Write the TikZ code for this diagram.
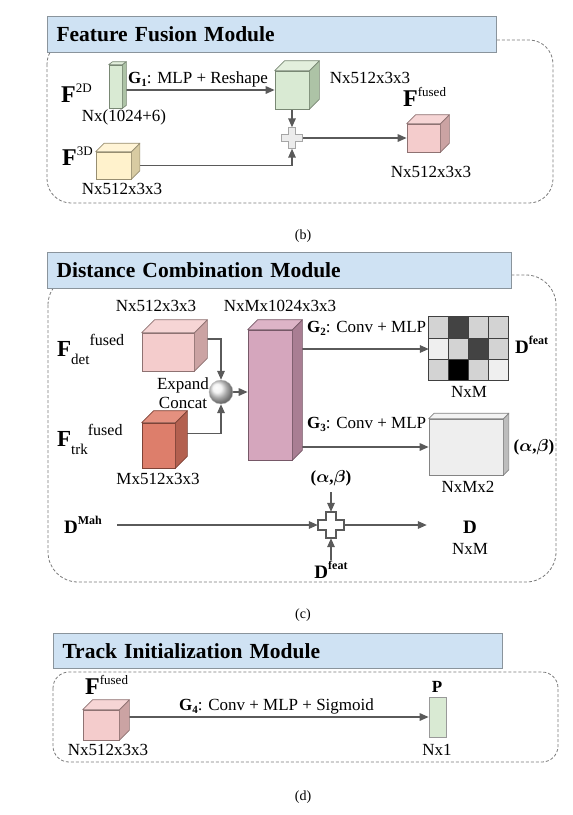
\documentclass[tikz,border=0pt]{standalone}
\usepackage{amsmath}
\usepackage{bm}
\usepackage{fontspec}
\setmainfont{Liberation Serif}
\usetikzlibrary{arrows.meta,calc}

\definecolor{titleblue}{HTML}{CFE2F3}
\definecolor{titleedge}{HTML}{8A949C}
\definecolor{arrgray}{HTML}{5A5A5A}
\definecolor{dashgray}{HTML}{7A7A7A}
\definecolor{greenfront}{HTML}{D9EAD3}
\definecolor{greenside}{HTML}{ADC3A6}
\definecolor{greentop}{HTML}{E3EFDD}
\definecolor{yellowfront}{HTML}{FFF2CC}
\definecolor{yellowside}{HTML}{D8CBA2}
\definecolor{yellowtop}{HTML}{FFF4D6}
\definecolor{pinkfront}{HTML}{F4CCCC}
\definecolor{pinkside}{HTML}{CBA3A3}
\definecolor{pinktop}{HTML}{F6D5D5}
\definecolor{redfront}{HTML}{DD7E6B}
\definecolor{redside}{HTML}{B3604F}
\definecolor{redtop}{HTML}{E4907F}
\definecolor{mauvefront}{HTML}{D5A6BD}
\definecolor{mauveside}{HTML}{A97E93}
\definecolor{mauvetop}{HTML}{DDB4C7}
\definecolor{grayfront}{HTML}{EEEEEE}
\definecolor{grayside}{HTML}{BDBDBD}
\definecolor{graytop}{HTML}{F3F3F3}
\definecolor{cl}{HTML}{D3D3D3}
\definecolor{cv}{HTML}{EFEFEF}
\definecolor{cd}{HTML}{434343}
\definecolor{cb}{HTML}{000000}

\pgfdeclarelayer{bg}
\pgfsetlayers{bg,main}

% cube: name, position, width, height, depth, front, side, top
\newcommand{\cube}[8]{%
  \node[cubeface, draw=#7!70!black, fill=#6, minimum width=#3pt, minimum height=#4pt] (#1) at (#2) {};
  \draw[cubeedge, draw=#7!70!black, fill=#7] (#1.north east) -- ++(#5,-#5) -- ([shift={(#5,-#5)}]#1.south east) -- (#1.south east) -- cycle;
  \draw[cubeedge, draw=#7!70!black, fill=#8] (#1.north west) -- ++(#5,-#5) -- ([shift={(#5,-#5)}]#1.north east) -- (#1.north east) -- cycle;
}
% plus: name, position, half length, half thickness, style
\newcommand{\plusnode}[5]{%
  \node[inner sep=0pt, minimum size={2*#3 pt}] (#1) at (#2) {};
  \draw[#5] (#2) ++(-#4,-#3) -- ++(2*#4,0) -- ++(0,#3-#4) -- ++(#3-#4,0) -- ++(0,2*#4) -- ++(-#3+#4,0) -- ++(0,#3-#4) -- ++(-2*#4,0) -- ++(0,-#3+#4) -- ++(-#3+#4,0) -- ++(0,-2*#4) -- ++(#3-#4,0) -- cycle;
}
\newcommand{\Fsup}[1]{{\fontsize{24}{24}\selectfont\textbf{F}}\raisebox{10pt}{\fontsize{13}{13}\selectfont #1}}
\newcommand{\Fsubsup}[2]{{\fontsize{23}{23}\selectfont\textbf{F}}\raisebox{-8pt}{\fontsize{15}{15}\selectfont #1}\raisebox{11pt}{\fontsize{16}{16}\selectfont #2}}
\newcommand{\Dsup}[1]{{\fontsize{19}{19}\selectfont\textbf{D}}\raisebox{9pt}{\fontsize{12}{12}\selectfont\textbf{#1}}}
\newcommand{\Gsub}[1]{\textbf{G}\raisebox{-3pt}{\fontsize{11}{11}\selectfont\textbf{#1}}}
\newcommand{\ab}{\textbf{(}$\bm{\alpha}$\textbf{,}$\bm{\beta}$\textbf{)}}

\begin{document}
\begin{tikzpicture}[x=1pt, y=-1pt,
  lbl/.style={font=\fontsize{17}{19}\selectfont, inner sep=0pt},
  sym/.style={font=\fontsize{17}{19}\selectfont, inner sep=0pt, anchor=base west},
  captext/.style={font=\fontsize{14}{16}\selectfont, inner sep=0pt},
  arr/.style={draw=arrgray, line width=1.6pt, -{Triangle[length=9pt,width=7.5pt]}},
  cubeface/.style={inner sep=0pt, line width=0.7pt},
  cubeedge/.style={line width=0.7pt, line join=round},
  dashbox/.style={draw=dashgray, line width=0.8pt, dash pattern=on 3pt off 2pt},
  titlebox/.style={draw=titleedge, line width=1pt, fill=titleblue, anchor=north west,
    minimum height=36pt, text width=#1, align=left, inner xsep=9pt,
    font=\fontsize{21.5}{24}\selectfont\bfseries},
  plusb/.style={draw=gray!70, fill=gray!15, line width=1pt},
  plusc/.style={draw=arrgray, fill=white, line width=1.6pt, line join=miter}]
\useasboundingbox (0,0) rectangle (573,815);

% (b) feature fusion
\draw[dashbox, rounded corners=24pt] (47,40) rectangle (553,203);
\node[titlebox=431pt] (titleb) at (47,16) {Feature Fusion Module};
\node[cubeface, draw=greenside!70!black, fill=greenfront, minimum width=13pt, minimum height=43pt] (bar2d) at (115.5,86.5) {};
\draw[cubeedge, draw=greenside!70!black, fill=greenside] (bar2d.north east) -- ++(4,-3) -- ([shift={(4,-3)}]bar2d.south east) -- (bar2d.south east) -- cycle;
\draw[cubeedge, draw=greenside!70!black, fill=greentop] (bar2d.north west) -- ++(4,-3) -- ([shift={(4,-3)}]bar2d.north east) -- (bar2d.north east) -- cycle;
\node[sym] (f2d) at (61,102) {\Fsup{2D}};
\node[lbl] (l2d) at (124,117) {Nx(1024+6)};
\cube{cubeg}{292,90}{34}{38}{10}{greenfront}{greenside}{greentop}
\node[lbl] (lg) at (370,78) {Nx512x3x3};
\node[sym] (g1) at (128,83) {\Gsub{1}: MLP + Reshape};
\plusnode{plusb}{292,138}{10.5}{3.8}{plusb}
\cube{f3d}{113.5,165.5}{35}{27}{8.5}{yellowfront}{yellowside}{yellowtop}
\node[sym] (f3dl) at (62,165) {\Fsup{3D}};
\node[lbl] (l3d) at (122,189) {Nx512x3x3};
\cube{ffused}{423.5,138}{33}{28}{9}{pinkfront}{pinkside}{pinktop}
\node[sym] (ffusedl) at (403,106) {\Fsup{fused}};
\node[lbl] (lfused) at (431,172) {Nx512x3x3};
\node[captext] (capb) at (303,236) {(b)};
\begin{pgfonlayer}{bg}
\draw[arr] (bar2d.east |- cubeg) -- (cubeg);
\draw[arr] (cubeg) -- (plusb);
\draw[arr] (f3d) -| (plusb);
\draw[arr] (plusb) -- (ffused);
\end{pgfonlayer}

% (c) distance combination
\draw[dashbox, rounded corners=30pt] (48,275) rectangle (556,582);
\node[titlebox=446pt] (titlec) at (47,252) {Distance Combination Module};
\node[lbl] (ldet) at (156,306) {Nx512x3x3};
\node[lbl] (lblock) at (280,306) {NxMx1024x3x3};
\cube{fdet}{168,352}{52}{38}{13}{pinkfront}{pinkside}{pinktop}
\cube{ftrk}{158.5,445.5}{33}{45}{12}{redfront}{redside}{redtop}
\node[sym] (fdetl) at (57,356) {\Fsubsup{det}{fused}};
\node[sym] (ftrkl) at (57,446) {\Fsubsup{trk}{fused}};
\node[lbl] (ltrk) at (158,479) {Mx512x3x3};
\node[circle, inner sep=0pt, minimum size=24pt, ball color=gray!12, draw=gray!50] (concat) at (221,392) {};
\node[lbl, align=center] (lconcat) at (183,393) {Expand\\Concat};
\cube{block}{270,395}{44}{130}{10}{mauvefront}{mauveside}{mauvetop}
\node[inner sep=0pt, minimum width=80pt, minimum height=64pt] (dgrid) at (469,349) {};
\foreach \c [count=\i from 0] in {cl,cd,cl,cl,cv,cl,cd,cl,cl,cb,cl,cv} {
  \pgfmathtruncatemacro\col{mod(\i,4)}
  \pgfmathtruncatemacro\row{\i/4}
  \filldraw[fill=\c, draw=black!75, line width=0.8pt] ([shift={(\col*20,\row*21.333)}]dgrid.north west) rectangle ++(20,21.333);
}
\node[sym] (g2) at (307,332) {\Gsub{2}: Conv + MLP};
\node[sym] (dfeatl) at (515,353) {\Dsup{feat}};
\node[lbl] (lgrid) at (469,392) {NxM};
\cube{gbox}{466,447}{74}{56}{5.5}{grayfront}{grayside}{graytop}
\node[sym] (g3) at (307,428) {\Gsub{3}: Conv + MLP};
\node[lbl] (abr) at (534,447) {\ab};
\node[lbl] (lgbox) at (468,487) {NxMx2};
\node[lbl] (abt) at (331,478) {\ab};
\plusnode{plusc}{331,525}{13}{5}{plusc}
\node[sym] (dmah) at (64,533) {\Dsup{Mah}};
\node[lbl, minimum width=86pt] (dout) at (470,527) {\fontsize{19}{19}\selectfont\textbf{D}};
\node[lbl] (ldout) at (470,549) {NxM};
\node[lbl, anchor=base] (dfeatb) at (331,578) {\Dsup{feat}};
\node[captext] (capc) at (303,615) {(c)};
\begin{pgfonlayer}{bg}
\draw[arr] ([yshift=13pt]fdet.east) -| (concat);
\draw[arr] ([yshift=12pt]ftrk.east) -| (concat);
\draw[arr] (concat) -- (concat -| block.west);
\draw[arr] (block.east |- dgrid) -- (dgrid);
\draw[arr] (block.east |- gbox) -- (gbox);
\draw[arr, shorten <=6pt] (abt) -- (plusc);
\draw[arr, shorten <=15pt] (dmah.east |- plusc) -- (plusc);
\draw[arr] (plusc) -- (plusc -| dout.west);
\draw[arr] (dfeatb) -- (plusc);
\end{pgfonlayer}

% (d) track initialization
\draw[dashbox, rounded corners=16pt] (53,672) rectangle (558,762);
\node[titlebox=431pt, minimum height=35pt] (titled) at (53,633) {Track Initialization Module};
\cube{cubed}{101,725}{36}{30}{10}{pinkfront}{pinkside}{pinktop}
\node[sym] (fd) at (85,694) {\Fsup{fused}};
\node[lbl] (ld) at (108,750) {Nx512x3x3};
\node[cubeface, draw=gray!80, fill=greenfront, minimum width=17pt, minimum height=40pt] (pbar) at (437.5,717) {};
\node[lbl] (pl) at (437,687) {\textbf{P}};
\node[lbl] (lp) at (437,750) {Nx1};
\node[sym] (g4) at (179,710) {\Gsub{4}: Conv + MLP + Sigmoid};
\node[captext] (capd) at (303,797) {(d)};
\begin{pgfonlayer}{bg}
\draw[arr] (cubed.east |- pbar) -- (pbar);
\end{pgfonlayer}
\end{tikzpicture}
\end{document}
